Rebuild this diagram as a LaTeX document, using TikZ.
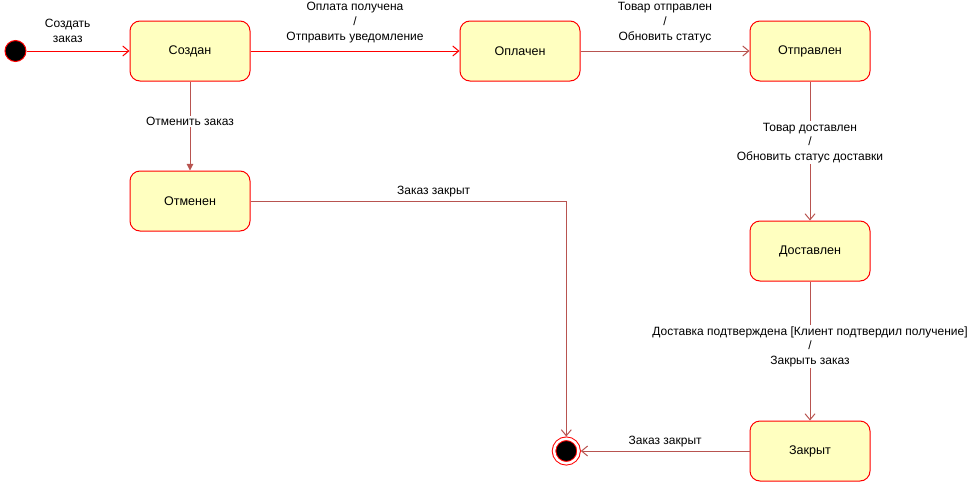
\documentclass[tikz,border=0pt]{standalone}
\usepackage{fontspec}
\setmainfont{Liberation Sans}
\usetikzlibrary{arrows.meta}
\usetikzlibrary{positioning}
\definecolor{statefill}{HTML}{FFFFC0}
\definecolor{edgered}{HTML}{FF0000}
\definecolor{edgebrown}{HTML}{B85450}
\newcommand{\statefont}[0]{\fontsize{9.4}{11}\selectfont}
\newcommand{\labelfont}[0]{\fontsize{9}{10.9}\selectfont}
\tikzset{
  statebox/.style={rectangle, rounded corners=7.5pt, draw=edgered, fill=statefill,
    line width=0.75pt, minimum width=90pt, minimum height=45pt, font=\statefont},
  startdot/.style={circle, draw=edgered, fill=black, line width=0.75pt,
    minimum size=15.75pt, inner sep=0pt},
  enddot/.style={circle, draw=edgered, fill=black, line width=0.75pt, double=white,
    double distance=1.9pt, minimum size=18.4pt, inner sep=0pt, outer sep=1.7pt},
  trans/.style={draw=edgebrown, line width=0.75pt, -{Straight Barb[length=4.5pt,width=7.5pt]}},
  translabel/.style={font=\labelfont, align=center, inner sep=1pt, text=black},
}

\begin{document}
\begin{tikzpicture}[x=0.75pt, y=-0.75pt]
    \useasboundingbox (0,0) rectangle (968,482);
    % states
    \node[statebox] at (190,51)
        (created) {Создан};
    \node[statebox, right=156.75pt of created]
        (paid) {Оплачен};
    \node[statebox, right=126.75pt of paid]
        (shipped) {Отправлен};
    \node[statebox, below=66.75pt of created]
        (cancelled) {Отменен};
    \node[statebox, below=104.25pt of shipped]
        (delivered) {Доставлен};
    \node[statebox, below=104.25pt of delivered]
        (closed) {Закрыт};
    \node[startdot, left=77.25pt of created]
        (start) {};
    \node[enddot, left=126.5pt of closed]
        (finish) {};
    % transitions
    \draw[trans, draw=edgered] (start) -- node[translabel, above=5pt, pos=0.4] {Создать\\заказ} (created);
    \draw[trans, draw=edgered] (created) -- node[translabel, above=5pt] {Оплата получена\\/\\Отправить уведомление} (paid);
    \draw[trans] (paid) -- node[translabel, above=5pt] {Товар отправлен\\/\\Обновить статус} (shipped);
    \draw[trans, -{Triangle[length=5pt,width=5pt]}] (created) -- node[translabel, fill=white, pos=0.45] {Отменить заказ} (cancelled);
    \draw[trans] (cancelled) -| node[translabel, above=2pt, pos=0.29] {Заказ закрыт} (finish);
    \draw[trans] (shipped) -- node[translabel, fill=white, pos=0.44] {Товар доставлен\\/\\Обновить статус доставки} (delivered);
    \draw[trans] (delivered) -- node[translabel, fill=white, pos=0.47] {Доставка подтверждена [Клиент подтвердил получение]\\/\\Закрыть заказ} (closed);
    \draw[trans] (closed) -- node[translabel, above=2pt] {Заказ закрыт} (finish);
\end{tikzpicture}
\end{document}
